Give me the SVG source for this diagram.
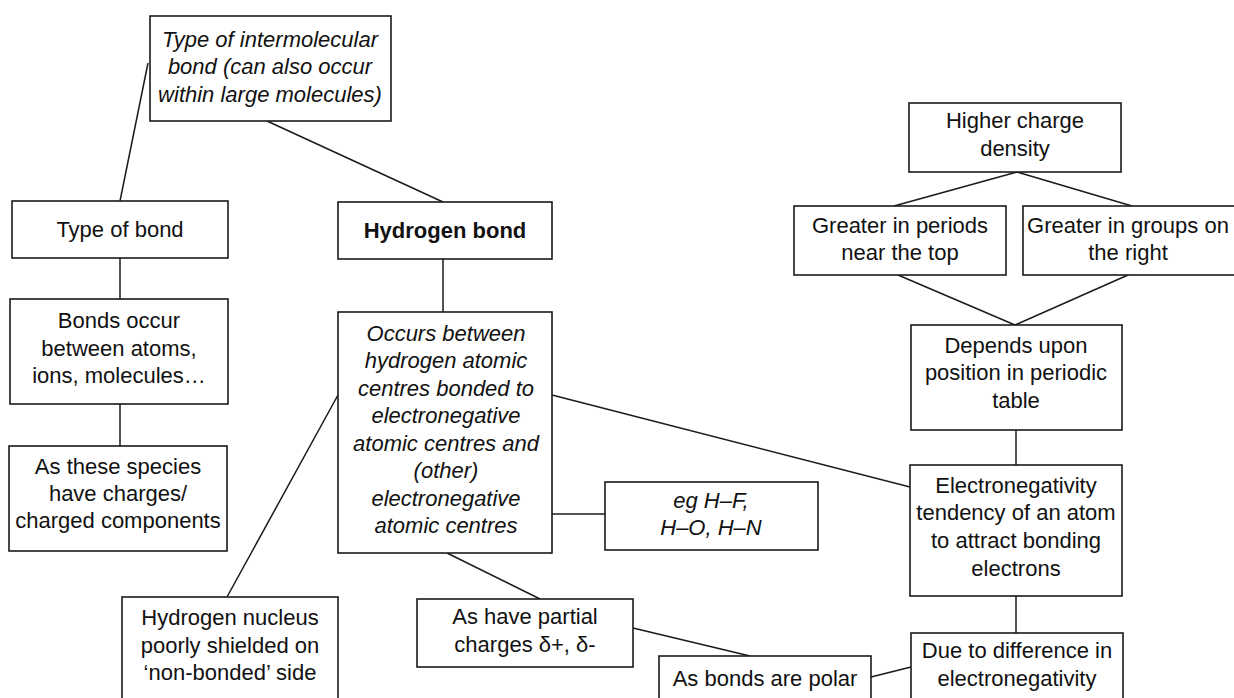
<svg xmlns="http://www.w3.org/2000/svg" width="1234" height="698" viewBox="0 0 1234 698">
<style>
rect{fill:#fff;stroke:#1a1a1a;stroke-width:1.6}
line{stroke:#1a1a1a;stroke-width:1.5}
text{font-family:"Liberation Sans",Arial,sans-serif;font-size:22px;fill:#111;text-anchor:middle}
.i{font-style:italic}
.b{font-weight:bold}
</style>
<rect x="0" y="0" width="1234" height="698" style="fill:#fff;stroke:none"/>
<g id="connectors">
<line x1="148" y1="63" x2="120" y2="201"/>
<line x1="267" y1="121" x2="443" y2="202"/>
<line x1="120" y1="258" x2="120" y2="299"/>
<line x1="120" y1="404" x2="120" y2="446"/>
<line x1="443" y1="259" x2="443" y2="312"/>
<line x1="227" y1="597" x2="338" y2="395"/>
<line x1="552" y1="395" x2="910" y2="487"/>
<line x1="552" y1="514" x2="605" y2="514"/>
<line x1="447" y1="553" x2="540" y2="599"/>
<line x1="633" y1="628" x2="750" y2="656"/>
<line x1="871" y1="677" x2="911" y2="667"/>
<line x1="1016" y1="596" x2="1016" y2="633"/>
<line x1="1016" y1="430" x2="1016" y2="465"/>
<line x1="1017" y1="172" x2="894" y2="206"/>
<line x1="1017" y1="172" x2="1132" y2="206"/>
<line x1="898" y1="275" x2="1015" y2="325"/>
<line x1="1128" y1="275" x2="1015" y2="325"/>
</g>
<g id="n-intermolecular">
<rect x="150" y="16" width="241" height="105"/>
<text class="i" x="270" y="47">Type of intermolecular</text>
<text class="i" x="270" y="74">bond (can also occur</text>
<text class="i" x="270" y="102">within large molecules)</text>
</g>
<g id="n-typeofbond">
<rect x="12" y="201" width="216" height="57"/>
<text x="120" y="237">Type of bond</text>
</g>
<g id="n-hydrogenbond">
<rect x="338" y="202" width="214" height="57"/>
<text class="b" x="445" y="238">Hydrogen bond</text>
</g>
<g id="n-bondsoccur">
<rect x="10" y="299" width="218" height="105"/>
<text x="119" y="328">Bonds occur</text>
<text x="119" y="356">between atoms,</text>
<text x="119" y="383">ions, molecules…</text>
</g>
<g id="n-species">
<rect x="9" y="446" width="218" height="105"/>
<text x="118" y="474">As these species</text>
<text x="118" y="501">have charges/</text>
<text x="118" y="528">charged components</text>
</g>
<g id="n-nucleus">
<rect x="122" y="597" width="216" height="120"/>
<text x="230" y="625">Hydrogen nucleus</text>
<text x="230" y="653">poorly shielded on</text>
<text x="230" y="680">‘non-bonded’ side</text>
</g>
<g id="n-occurs">
<rect x="338" y="312" width="214" height="241"/>
<text class="i" x="446" y="341">Occurs between</text>
<text class="i" x="446" y="368">hydrogen atomic</text>
<text class="i" x="446" y="396">centres bonded to</text>
<text class="i" x="446" y="423">electronegative</text>
<text class="i" x="446" y="451">atomic centres and</text>
<text class="i" x="446" y="478">(other)</text>
<text class="i" x="446" y="506">electronegative</text>
<text class="i" x="446" y="533">atomic centres</text>
</g>
<g id="n-eg">
<rect x="605" y="482" width="213" height="68"/>
<text class="i" x="711" y="508">eg H–F,</text>
<text class="i" x="711" y="535">H–O, H–N</text>
</g>
<g id="n-partial">
<rect x="417" y="599" width="216" height="68"/>
<text x="525" y="624">As have partial</text>
<text x="525" y="652">charges δ+, δ-</text>
</g>
<g id="n-polar">
<rect x="659" y="656" width="212" height="60"/>
<text x="765" y="686">As bonds are polar</text>
</g>
<g id="n-due">
<rect x="911" y="633" width="212" height="80"/>
<text x="1017" y="658">Due to difference in</text>
<text x="1017" y="686">electronegativity</text>
</g>
<g id="n-electronegativity">
<rect x="910" y="465" width="212" height="131"/>
<text x="1016" y="493">Electronegativity</text>
<text x="1016" y="520">tendency of an atom</text>
<text x="1016" y="548">to attract bonding</text>
<text x="1016" y="576">electrons</text>
</g>
<g id="n-depends">
<rect x="911" y="325" width="211" height="105"/>
<text x="1016" y="353">Depends upon</text>
<text x="1016" y="380">position in periodic</text>
<text x="1016" y="408">table</text>
</g>
<g id="n-higher">
<rect x="909" y="103" width="212" height="69"/>
<text x="1015" y="128">Higher charge</text>
<text x="1015" y="156">density</text>
</g>
<g id="n-periods">
<rect x="794" y="206" width="212" height="69"/>
<text x="900" y="233">Greater in periods</text>
<text x="900" y="260">near the top</text>
</g>
<g id="n-groups">
<rect x="1023" y="206" width="214" height="69"/>
<text x="1128" y="233">Greater in groups on</text>
<text x="1128" y="260">the right</text>
</g>
</svg>
